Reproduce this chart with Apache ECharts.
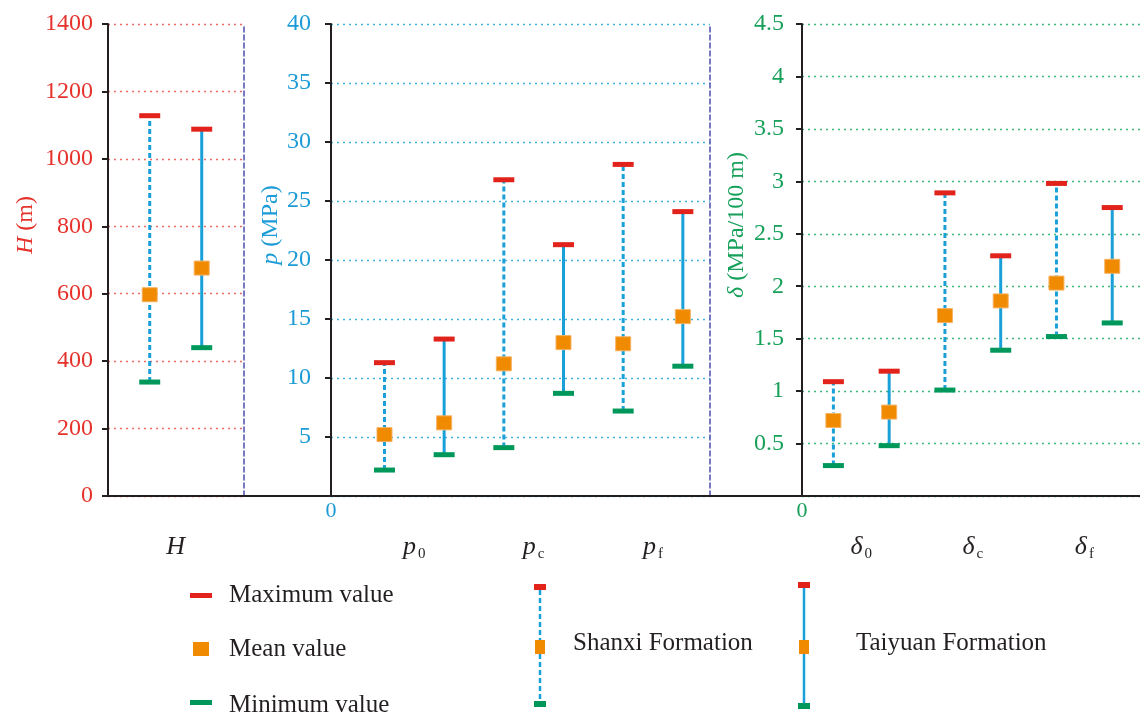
<!DOCTYPE html>
<html>
<head>
<meta charset="utf-8">
<script src="https://cdn.jsdelivr.net/npm/echarts@6/dist/echarts.min.js"></script>
<style>
  html, body { margin: 0; padding: 0; background: #fff; }
  #chart { width: 1140px; height: 712px; }
</style>
</head>
<body>
<div id="chart"></div>
<script>
// Formations compared in every panel (dashed = Shanxi, solid = Taiyuan)
const formations = ['Shanxi Formation', 'Taiyuan Formation'];

// Parameter names per panel (first char is the symbol, the rest its subscript)
const depthLabels = ['H'];
const pressureLabels = ['p0', 'pc', 'pf'];
const gradientLabels = ['δ0', 'δc', 'δf'];

// Burial depth H (m), order: Shanxi, Taiyuan
const depthMin = [338, 440];
const depthMean = [597, 676];
const depthMax = [1128, 1088];

// Pressure p (MPa), order: p0 Shanxi, p0 Taiyuan, pc Shanxi, pc Taiyuan, pf Shanxi, pf Taiyuan
const pressureMin = [2.2, 3.5, 4.1, 8.7, 7.2, 11.0];
const pressureMean = [5.2, 6.2, 11.2, 13.0, 12.9, 15.2];
const pressureMax = [11.3, 13.3, 26.8, 21.3, 28.1, 24.1];

// Pressure gradient δ (MPa/100 m), same order as pressure
const gradientMin = [0.29, 0.48, 1.01, 1.39, 1.52, 1.65];
const gradientMean = [0.72, 0.80, 1.72, 1.86, 2.03, 2.19];
const gradientMax = [1.09, 1.19, 2.89, 2.29, 2.98, 2.75];

// Y-axis tick values
const depthTicks = [0, 200, 400, 600, 800, 1000, 1200, 1400];
const pressureTicks = [0, 5, 10, 15, 20, 25, 30, 35, 40];
const gradientTicks = [0, 0.5, 1, 1.5, 2, 2.5, 3, 3.5, 4, 4.5];

// Legend entries
const statLabels = ['Maximum value', 'Mean value', 'Minimum value'];

const SERIF = '"Liberation Serif", "Times New Roman", serif';
const DARK = '#231f20';
const RED = '#e2231c';
const ORANGE = '#f08a00';
const GREEN = '#00985a';
const BLUE = '#1aa0d8';
const PURPLE = '#4b4fae';

const TOP = 24, BOTTOM = 216;

const panels = [
  {
    labels: depthLabels, min: depthMin, mean: depthMean, max: depthMax, ticks: depthTicks,
    color: '#e5322b', gridColor: '#ec6a62',
    name: '{i|H} (m)', nameGap: 70, margin: 15, showZeroY: true, zeroBelow: false, divider: true,
    left: 108, width: 136, xMin: -0.802, xMax: 1.813
  },
  {
    labels: pressureLabels, min: pressureMin, mean: pressureMean, max: pressureMax, ticks: pressureTicks,
    color: '#1c9bd6', gridColor: '#3fb2e2',
    name: '{i|p} (MPa)', nameGap: 48, margin: 20, showZeroY: false, zeroBelow: true, divider: true,
    left: 331, width: 379, xMin: -0.896, xMax: 5.455
  },
  {
    labels: gradientLabels, min: gradientMin, mean: gradientMean, max: gradientMax, ticks: gradientTicks,
    color: '#17a05a', gridColor: '#3fb87c',
    name: '{i|δ} (MPa/100 m)', nameGap: 53, margin: 18, showZeroY: false, zeroBelow: true, divider: false,
    left: 802, width: 338, xMin: -0.563, xMax: 5.498
  }
];

const grids = [];
const xAxes = [];
const yAxes = [];
const series = [];

panels.forEach((p) => {
  grids.push({ left: p.left, width: p.width, top: TOP, bottom: BOTTOM });
});
// full-width frame carrying the common baseline
grids.push({ left: 108, right: 0, top: TOP, bottom: BOTTOM });

// main x axes (the "0" under the y axis)
panels.forEach((p, k) => {
  xAxes.push({
    gridIndex: k, type: 'value', min: p.xMin, max: p.xMax, position: 'bottom',
    axisLine: { show: false, onZero: false }, axisTick: { show: false }, splitLine: { show: false },
    axisLabel: p.zeroBelow ? {
      show: true, customValues: [p.xMin], formatter: () => '0',
      color: p.color, fontFamily: SERIF, fontSize: 22, margin: 4
    } : { show: false }
  });
});
// category-label x axes
panels.forEach((p, k) => {
  xAxes.push({
    gridIndex: k, type: 'value', min: p.xMin, max: p.xMax, position: 'bottom',
    axisLine: { show: false, onZero: false }, axisTick: { show: false }, splitLine: { show: false },
    axisLabel: {
      show: true,
      customValues: p.labels.map((_, j) => 2 * j + 0.5),
      margin: 37,
      formatter: (v) => {
        const name = p.labels[Math.round((v - 0.5) / 2)] || '';
        const sub = name.slice(1);
        return sub ? '{m|' + name[0] + '}{s|' + sub + '}' : '{m|' + name[0] + '}';
      },
      rich: {
        m: { fontFamily: SERIF, fontStyle: 'italic', fontSize: 26, color: DARK, lineHeight: 28 },
        s: { fontFamily: SERIF, fontSize: 15, color: DARK, padding: [14, 0, 0, 2], lineHeight: 28 }
      }
    }
  });
});
// frame axis
xAxes.push({
  gridIndex: 3, type: 'value', min: 0, max: 1,
  axisLine: { show: true, onZero: false, lineStyle: { color: DARK, width: 2 } },
  axisTick: { show: false }, axisLabel: { show: false }, splitLine: { show: false }
});

// value axes
panels.forEach((p, k) => {
  const last = p.ticks[p.ticks.length - 1];
  yAxes.push({
    gridIndex: k, type: 'value', position: 'left',
    min: p.ticks[0], max: last, interval: p.ticks[1] - p.ticks[0],
    axisLine: { show: true, onZero: false, lineStyle: { color: DARK, width: 2 } },
    axisTick: { show: true, length: 6, lineStyle: { color: DARK, width: 2 } },
    axisLabel: {
      color: p.color, fontFamily: SERIF, fontSize: 24, margin: p.margin,
      formatter: (v) => (!p.showZeroY && v === 0) ? '' : String(v)
    },
    splitLine: { show: true, lineStyle: { color: p.gridColor, type: [2, 4], width: 1.3 } },
    name: p.name, nameLocation: 'middle', nameRotate: 90, nameGap: p.nameGap,
    nameTextStyle: {
      color: p.color, fontFamily: SERIF, fontSize: 24, padding: [0, 0, 0, 70],
      rich: { i: { color: p.color, fontFamily: SERIF, fontSize: 24, fontStyle: 'italic' } }
    }
  });
});
// dashed dividers on the right of the first two panels
panels.forEach((p, k) => {
  if (!p.divider) return;
  const last = p.ticks[p.ticks.length - 1];
  yAxes.push({
    gridIndex: k, type: 'value', position: 'right', min: p.ticks[0], max: last,
    axisLine: { show: true, onZero: false, lineStyle: { color: PURPLE, width: 1.5, type: [5, 3] } },
    axisTick: { show: false }, axisLabel: { show: false }, splitLine: { show: false }
  });
});
yAxes.push({ gridIndex: 3, type: 'value', show: false });

// range bar: line from min to max, red cap at max, green cap at min, orange mean square
function rangeRenderer(dashed) {
  return function (params, api) {
    const x = api.value(0);
    const lo = api.coord([x, api.value(1)]);
    const mid = api.coord([x, api.value(2)]);
    const hi = api.coord([x, api.value(3)]);
    return {
      type: 'group',
      children: [
        {
          type: 'line',
          shape: { x1: lo[0], y1: lo[1], x2: hi[0], y2: hi[1] },
          style: { stroke: BLUE, lineWidth: 3, lineDash: dashed ? [5, 3] : null }
        },
        { type: 'rect', shape: { x: hi[0] - 10.5, y: hi[1] - 2.5, width: 21, height: 5 }, style: { fill: RED } },
        { type: 'rect', shape: { x: lo[0] - 10.5, y: lo[1] - 2.5, width: 21, height: 5 }, style: { fill: GREEN } },
        {
          type: 'rect', shape: { x: mid[0] - 7.5, y: mid[1] - 7, width: 15, height: 14 },
          style: { fill: ORANGE, stroke: '#f6b262', lineWidth: 1 }
        }
      ]
    };
  };
}

panels.forEach((p, k) => {
  formations.forEach((f, fi) => {
    const rows = p.labels.map((_, j) => {
      const i = 2 * j + fi;
      return [i, p.min[i], p.mean[i], p.max[i]];
    });
    series.push({
      type: 'custom', name: f, xAxisIndex: k, yAxisIndex: k,
      data: rows, encode: { x: 0, y: [1, 2, 3] },
      renderItem: rangeRenderer(fi === 0), silent: true
    });
  });
});

// key: statistic markers and the two formation styles
function statText(x, y, text) {
  return {
    type: 'text', x: x, y: y,
    style: { text: text, fill: DARK, fontFamily: SERIF, fontSize: 25, verticalAlign: 'middle' }
  };
}
function formationKey(x, top, meanTop, bottom, dashed) {
  return [
    {
      type: 'line', shape: { x1: x, y1: top + 6, x2: x, y2: bottom },
      style: { stroke: BLUE, lineWidth: 2.5, lineDash: dashed ? [5, 3] : null }
    },
    { type: 'rect', shape: { x: x - 6, y: top, width: 12, height: 6 }, style: { fill: RED } },
    { type: 'rect', shape: { x: x - 5, y: meanTop, width: 10, height: 14 }, style: { fill: ORANGE } },
    { type: 'rect', shape: { x: x - 6, y: bottom, width: 12, height: 6 }, style: { fill: GREEN } }
  ];
}

const graphic = [
  { type: 'rect', shape: { x: 190, y: 593, width: 22, height: 5 }, style: { fill: RED } },
  statText(229, 595, statLabels[0]),
  { type: 'rect', shape: { x: 193, y: 642, width: 16, height: 14 }, style: { fill: ORANGE } },
  statText(229, 649, statLabels[1]),
  { type: 'rect', shape: { x: 190, y: 700, width: 22, height: 5 }, style: { fill: GREEN } },
  statText(229, 705, statLabels[2]),
  ...formationKey(540, 584, 640, 701, true),
  statText(573, 643, formations[0]),
  ...formationKey(804, 582, 640, 703, false),
  statText(856, 643, formations[1])
];

const chart = echarts.init(document.getElementById('chart'));
chart.setOption({
  backgroundColor: '#ffffff',
  animation: false,
  grid: grids,
  xAxis: xAxes,
  yAxis: yAxes,
  series: series,
  graphic: graphic
});
</script>
</body>
</html>
